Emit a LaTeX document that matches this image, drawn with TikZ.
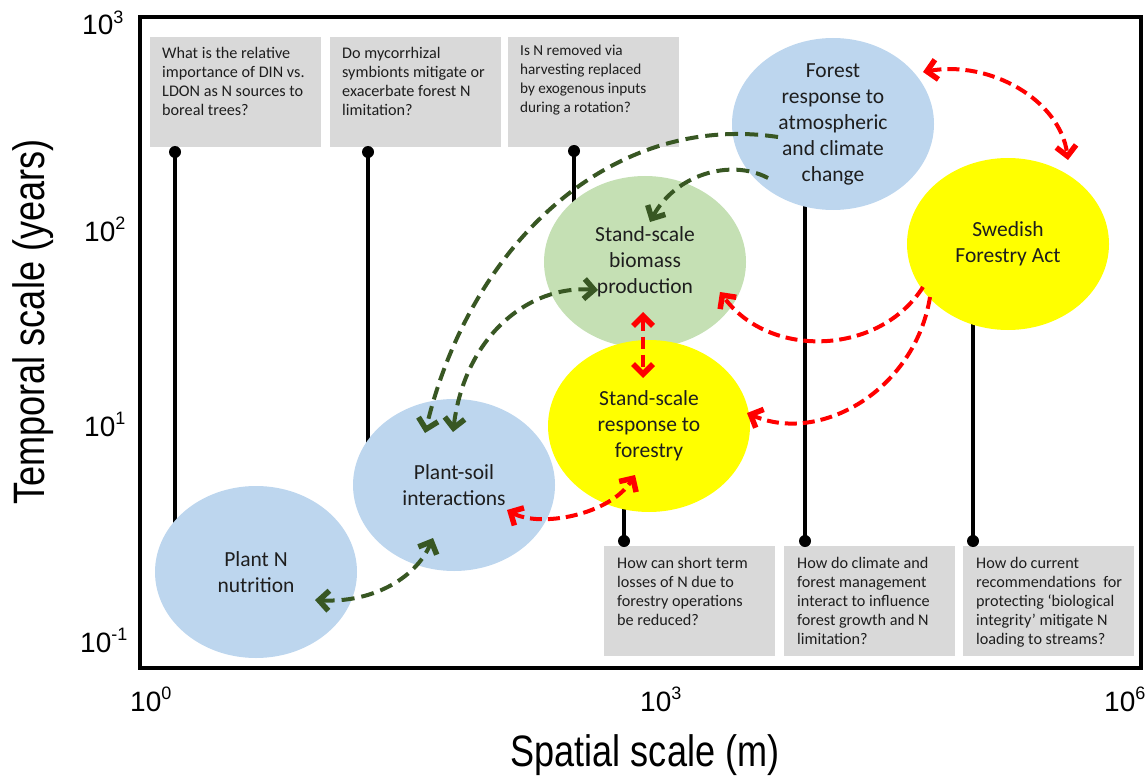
\documentclass[tikz,border=0pt]{standalone}
\usepackage{graphicx}
\usepackage{fontspec}
\setmainfont{Carlito}
\newfontfamily\axisfont{Liberation Sans}
\usetikzlibrary{shapes.geometric,arrows.meta,calc}
\definecolor{boxgray}{RGB}{217,217,217}
\definecolor{ellblue}{RGB}{189,214,238}
\definecolor{ellgreen}{RGB}{197,224,180}
\definecolor{ellyellow}{RGB}{255,255,0}
\definecolor{arrgreen}{RGB}{56,87,35}
\definecolor{arrred}{RGB}{255,0,0}
\definecolor{txt}{RGB}{30,30,30}
\newcommand{\tick}[2]{\axisfont\fontsize{28}{28}\selectfont #1\raisebox{0.42em}{\fontsize{18}{18}\selectfont #2}}
\begin{document}
\begin{tikzpicture}[x=1pt,y=-1pt,
  qbox/.style={fill=boxgray, draw=none, inner sep=0, minimum width=171pt, minimum height=110pt, anchor=north west},
  qtext/.style={anchor=north west, inner sep=0, align=left, text=txt, font=\fontsize{16.2}{19}\selectfont},
  ell/.style={ellipse, draw=none, inner sep=0, minimum width=202pt, minimum height=172pt},
  etext/.style={align=center, text=txt, font=\fontsize{21.5}{26}\selectfont},
  pinline/.style={line width=3.5pt, black},
  pindot/.style={fill=black},
  garrow/.style={draw=arrgreen, line width=4pt, dash pattern=on 13pt off 7pt},
  rarrow/.style={draw=arrred, line width=4pt, dash pattern=on 12pt off 6pt},
  >={Straight Barb[length=10pt,width=20pt,line width=5.5pt]},
  ticklab/.style={anchor=base west, inner sep=0}
]
\useasboundingbox (0,0) rectangle (1145,778);

% question boxes
\node[qbox] (q1) at (150,37) {};
\node[qbox] (q2) at (330,37) {};
\node[qbox] (q3) at (508,37) {};
\node[qbox] (q4) at (604,546) {};
\node[qbox] (q5) at (784,546) {};
\node[qbox] (q6) at (963,546) {};
\node[qtext] (q1t) at ($(q1.north west)+(12,10)$) {What is the relative\\importance of DIN vs.\\LDON as N sources to\\boreal trees?};
\node[qtext] (q2t) at ($(q2.north west)+(12,10)$) {Do mycorrhizal\\symbionts mitigate or\\exacerbate forest N\\limitation?};
\node[qtext, font=\fontsize{15.2}{19}\selectfont] (q3t) at ($(q3.north west)+(12,8)$) {Is N removed via\\harvesting replaced\\by exogenous inputs\\during a rotation?};
\node[qtext] (q4t) at ($(q4.north west)+(13,11)$) {How can short term\\losses of N due to\\forestry operations\\be reduced?};
\node[qtext] (q5t) at ($(q5.north west)+(13,11)$) {How do climate and\\forest management\\interact to influence\\forest growth and N\\limitation?};
\node[qtext] (q6t) at ($(q6.north west)+(13,11)$) {How do current\\recommendations\ \ for\\protecting ‘biological\\integrity’ mitigate N\\loading to streams?};

% pins
\coordinate (p1) at (175,152);
\coordinate (p2) at (368,152);
\coordinate (p3) at (574,151);
\coordinate (p4) at (624,541);
\coordinate (p5) at (805,541);
\coordinate (p6) at (973,541);
\coordinate (e1) at (175,570);
\coordinate (e2) at (368,485);
\coordinate (e3) at (574,260);
\coordinate (e4) at (624,430);
\coordinate (e5) at (805,130);
\coordinate (e6) at (973,250);
\foreach \i in {1,...,6}{
  \draw[pinline] (p\i) -- (e\i);
  \fill[pindot] (p\i) circle (6);
}

% ellipses
\node[ell, fill=ellblue] (pn) at (256,572) {};
\node[ell, fill=ellblue] (ps) at (454,485) {};
\node[ell, fill=ellgreen] (sb) at (645,262) {};
\node[ell, fill=ellyellow] (sf) at (649,426) {};
\node[ell, fill=ellblue] (fr) at (833,124) {};
\node[ell, fill=ellyellow] (sw) at (1008,244) {};
\node[etext] (pnt) at (pn.center) {Plant N\\nutrition};
\node[etext] (pst) at (ps.center) {Plant-soil\\interactions};
\node[etext] (sbt) at (sb.center) {Stand-scale\\biomass\\production};
\node[etext] (sft) at (sf.center) {Stand-scale\\response to\\forestry};
\node[etext] (frt) at (fr.center) {Forest\\response to\\atmospheric\\and climate\\change};
\node[etext] (swt) at (sw.center) {Swedish\\Forestry Act};

% green arrows
\draw[garrow,->] ($(fr.center)+(-55,13)$) .. controls (610,112) and (470,245) .. ($(ps.center)+(-29,-52)$);
\draw[garrow,->] ($(fr.center)+(-65,54)$) .. controls (730,158) and (675,175) .. ($(sb.center)+(5,-40)$);
\draw[garrow,<->] ($(sb.center)+(-47,28)$) .. controls (530,285) and (465,335) .. ($(ps.center)+(-1,-53)$);
\draw[garrow,<->] ($(pn.center)+(59,28)$) .. controls (370,603) and (415,580) .. ($(ps.center)+(-21,53)$);

% red arrows
\draw[rarrow,<->] ($(fr.center)+(90,-52)$) .. controls (990,60) and (1060,100) .. ($(sw.center)+(60,-84)$);
\draw[rarrow,->] ($(sw.center)+(-85,43)$) .. controls (880,355) and (770,360) .. ($(sb.center)+(75,30)$);
\draw[rarrow,->] ($(sw.center)+(-78,53)$) .. controls (915,390) and (820,445) .. ($(sf.center)+(98,-13)$);
\draw[rarrow,<->] ($(sb.center)+(-2,50)$) -- ($(sf.center)+(-6,-48)$);
\draw[rarrow,<->] ($(ps.center)+(53,25)$) .. controls (540,528) and (610,515) .. ($(sf.center)+(-14,49)$);

% frame
\draw[line width=4pt] (140,17) rectangle (1141,668);

% axes labels
\node[ticklab] (y3) at (82,35) {\tick{10}{3}};
\node[ticklab] (y2) at (84,241) {\tick{10}{2}};
\node[ticklab] (y1) at (84,436) {\tick{10}{1}};
\node[ticklab] (ym1) at (80,652) {\tick{10}{-1}};
\node[ticklab] (x0) at (130,711) {\tick{10}{0}};
\node[ticklab] (x3) at (640,711) {\tick{10}{3}};
\node[ticklab] (x6) at (1104,711) {\tick{10}{6}};
\node[font=\axisfont\fontsize{44}{44}\selectfont] (xl) at (645,755) {\scalebox{0.82}[1]{Spatial scale (m)}};
\node[font=\axisfont\fontsize{44}{44}\selectfont, rotate=90] (yl) at (33,322) {\scalebox{0.82}[1]{Temporal scale (years)}};
\end{tikzpicture}
\end{document}
